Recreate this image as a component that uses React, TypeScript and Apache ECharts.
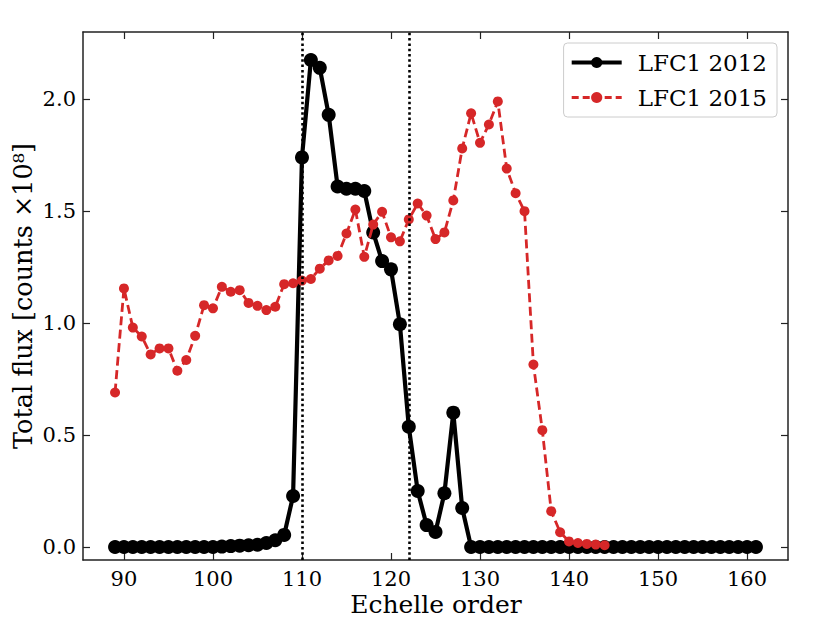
import React, { useEffect, useRef } from "react";
import * as echarts from "echarts";

// Echelle orders and total flux (counts x 1e8)
const orders2012 = [
  89, 90, 91, 92, 93, 94, 95, 96, 97, 98, 99, 100, 101, 102, 103, 104, 105, 106, 107, 108,
  109, 110, 111, 112, 113, 114, 115, 116, 117, 118, 119, 120, 121, 122, 123, 124, 125, 126,
  127, 128, 129, 130, 131, 132, 133, 134, 135, 136, 137, 138, 139, 140, 141, 142, 143, 144,
  145, 146, 147, 148, 149, 150, 151, 152, 153, 154, 155, 156, 157, 158, 159, 160, 161,
];
const flux2012 = [
  0, 0, 0, 0, 0, 0, 0, 0, 0, 0, 0, 0, 0.002, 0.004, 0.006, 0.008, 0.01, 0.018, 0.03, 0.054,
  0.228, 1.74, 2.175, 2.14, 1.93, 1.61, 1.6, 1.6, 1.59, 1.405, 1.277, 1.24, 0.995, 0.537, 0.25,
  0.098, 0.067, 0.24, 0.6, 0.174, 0, 0, 0, 0, 0, 0, 0, 0, 0, 0, 0, 0, 0, 0, 0, 0, 0, 0, 0, 0,
  0, 0, 0, 0, 0, 0, 0, 0, 0, 0, 0, 0, 0,
];
const orders2015 = [
  89, 90, 91, 92, 93, 94, 95, 96, 97, 98, 99, 100, 101, 102, 103, 104, 105, 106, 107, 108,
  109, 110, 111, 112, 113, 114, 115, 116, 117, 118, 119, 120, 121, 122, 123, 124, 125, 126,
  127, 128, 129, 130, 131, 132, 133, 134, 135, 136, 137, 138, 139, 140, 141, 142, 143, 144,
];
const flux2015 = [
  0.69, 1.155, 0.98, 0.94, 0.86, 0.887, 0.887, 0.787, 0.835, 0.943, 1.08, 1.066, 1.162, 1.14,
  1.147, 1.09, 1.077, 1.058, 1.073, 1.174, 1.178, 1.19, 1.197, 1.243, 1.28, 1.3, 1.4, 1.507,
  1.296, 1.44, 1.497, 1.383, 1.365, 1.463, 1.534, 1.48, 1.375, 1.405, 1.548, 1.78, 1.937, 1.805,
  1.887, 1.99, 1.69, 1.58, 1.5, 0.815, 0.522, 0.16, 0.066, 0.025, 0.018, 0.014, 0.011, 0.008,
];
const boundaryOrders = [110, 122];
const xTicks = [90, 100, 110, 120, 130, 140, 150, 160];
const yTicks = [0, 0.5, 1, 1.5, 2];
const seriesNames = ["LFC1 2012", "LFC1 2015"];

const FONT = "DejaVu Serif";

export default function App() {
  const ref = useRef<HTMLDivElement>(null);
  useEffect(() => {
    if (!ref.current) return;
    const chart = echarts.init(ref.current, null, { renderer: "svg" });
    const axisLineStyle = { color: "#222", width: 1.5 };
    const tickStyle = { color: "#222", width: 1.2 };
    const xBase = {
      type: "value",
      min: 85.4,
      max: 164.6,
      splitLine: { show: false },
      axisLine: { show: true, onZero: false, lineStyle: axisLineStyle },
      axisTick: { show: true, inside: true, length: 7, customValues: xTicks, lineStyle: tickStyle },
    };
    const yBase = {
      type: "value",
      min: -0.058,
      max: 2.3,
      splitLine: { show: false },
      axisLine: { show: true, onZero: false, lineStyle: axisLineStyle },
      axisTick: { show: true, inside: true, length: 7, customValues: yTicks, lineStyle: tickStyle },
    };
    chart.setOption({
      animation: false,
      backgroundColor: "#ffffff",
      grid: { left: 83, right: 42, top: 32, bottom: 63, containLabel: false },
      xAxis: [
        {
          ...xBase,
          position: "bottom",
          axisLabel: {
            customValues: xTicks,
            fontFamily: FONT,
            fontSize: 21,
            color: "#000",
            margin: 8,
          },
        },
        { ...xBase, position: "top", axisLabel: { show: false } },
      ],
      yAxis: [
        {
          ...yBase,
          position: "left",
          axisLabel: {
            customValues: yTicks,
            fontFamily: FONT,
            fontSize: 21,
            color: "#000",
            margin: 7,
            formatter: (v: number) => v.toFixed(1),
          },
        },
        { ...yBase, position: "right", axisLabel: { show: false } },
      ],
      legend: {
        data: [
          { name: seriesNames[0], lineStyle: { width: 4.2 } },
          { name: seriesNames[1], lineStyle: { width: 2.8, type: [7, 4] } },
        ],
        orient: "vertical",
        right: 53,
        top: 43,
        padding: [8, 10, 8, 6],
        itemGap: 12,
        itemWidth: 50,
        itemHeight: 14,
        backgroundColor: "rgba(255,255,255,0.85)",
        borderColor: "#cccccc",
        borderWidth: 1,
        borderRadius: 4,
        textStyle: { fontFamily: FONT, fontSize: 23, color: "#000", padding: [0, 0, 0, 11] },
      },
      graphic: [
        {
          type: "text",
          x: 436,
          y: 604,
          style: {
            text: "Echelle order",
            fontFamily: FONT,
            fontSize: 25,
            fill: "#000",
            textAlign: "center",
            textVerticalAlign: "middle",
          },
        },
        {
          type: "text",
          x: 23,
          y: 296,
          rotation: Math.PI / 2,
          style: {
            text: "Total flux [counts \u00d710\u2078]",
            fontFamily: FONT,
            fontSize: 25.5,
            fill: "#000",
            textAlign: "center",
            textVerticalAlign: "middle",
          },
        },
      ],
      series: [
        {
          type: "line",
          data: [],
          z: 1,
          silent: true,
          markLine: {
            silent: true,
            symbol: ["none", "none"],
            label: { show: false },
            lineStyle: { color: "#000", type: [2.5, 2.8], width: 2.6 },
            data: boundaryOrders.map((o) => ({ xAxis: o })),
          },
        },
        {
          name: seriesNames[0],
          type: "line",
          z: 2,
          data: orders2012.map((o, i) => [o, flux2012[i]]),
          symbol: "circle",
          symbolSize: 14,
          itemStyle: { color: "#000" },
          lineStyle: { color: "#000", width: 4.2 },
        },
        {
          name: seriesNames[1],
          type: "line",
          z: 3,
          data: orders2015.map((o, i) => [o, flux2015[i]]),
          symbol: "circle",
          symbolSize: 10,
          itemStyle: { color: "#d62728" },
          lineStyle: { color: "#d62728", width: 2.8, type: [9, 4.5] },
        },
      ],
    });
    return () => chart.dispose();
  }, []);
  return (
    <div
      ref={ref}
      style={{ position: "fixed", left: 0, top: 0, width: 830, height: 623, background: "#fff" }}
    />
  );
}
